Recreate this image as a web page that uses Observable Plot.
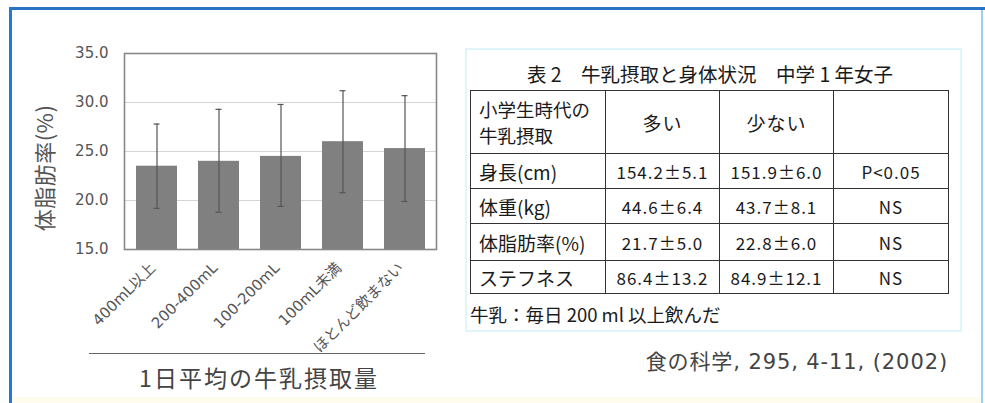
<!DOCTYPE html>
<html>
<head>
<meta charset="utf-8">
<script src="https://cdn.jsdelivr.net/npm/d3@7"></script>
<script src="https://cdn.jsdelivr.net/npm/@observablehq/plot@0.6"></script>
<style>
  html, body { margin: 0; padding: 0; background: #fff; }
  #page { position: relative; width: 985px; height: 403px; overflow: hidden; background: #fff;
          font-family: "Noto Sans CJK JP", "Noto Sans", sans-serif; }
  .abs { position: absolute; }
  #chart { position: absolute; left: 0; top: 0; }
  #ylabel { left: 43px; top: 168px; transform: translate(-50%, -50%) rotate(-90deg); font-size: 22px; color: #555; white-space: nowrap; letter-spacing: 0.5px; }
  #xline { left: 89px; top: 353px; width: 336px; height: 0; border-top: 1.5px solid #666; }
  #xtitle { left: 259px; top: 377px; transform: translate(-50%, -50%); font-size: 23px; color: #444; white-space: nowrap; letter-spacing: 2px; }
  #tblbox { left: 465px; top: 48px; width: 497px; height: 284px; border: 2px solid #e0f5f9; box-sizing: border-box; }
  #ttitle { left: 710px; top: 73px; transform: translate(-50%, -50%); font-size: 19.5px; color: #1a1a1a; white-space: pre; }
  #tbl { left: 470px; top: 90px; border-collapse: collapse; color: #1a1a1a; font-size: 17px; }
  #tbl td { border: 1.5px solid #333; padding: 0 6px; white-space: nowrap; box-sizing: border-box; }
  #tbl td.num { text-align: center; font-variant-numeric: tabular-nums; letter-spacing: 1px; }
  #tbl td.lab { text-align: left; padding-left: 8px; }
  .hl { display: block; line-height: 26px; }
  #tnote { left: 470px; top: 314px; transform: translate(0, -50%); font-size: 18.5px; color: #1a1a1a; white-space: nowrap; }
  #cite { left: 948px; top: 360px; transform: translate(-100%, -50%); font-size: 21px; color: #444; white-space: nowrap; letter-spacing: 0.9px;
          font-family: "DejaVu Sans", "Noto Sans CJK JP", sans-serif; }
  #ftop { left: 9px; top: 7px; width: 976px; height: 3px; background: #2a72c4; }
  #fleft { left: 9px; top: 7px; width: 3px; height: 396px; background: #1f7ad8; }
  #fright { left: 981px; top: 10px; width: 2px; height: 393px; background: #9ccff2; }
  #fbottom { left: 12px; top: 397px; width: 969px; height: 6px; background: #fffcee; }
</style>
</head>
<body>
<div id="page">
  <div id="fbottom" class="abs"></div>
  <div id="chart"></div>
  <div id="ylabel" class="abs"></div>
  <div id="xline" class="abs"></div>
  <div id="xtitle" class="abs"></div>
  <div id="tblbox" class="abs"></div>
  <div id="ttitle" class="abs"></div>
  <table id="tbl" class="abs"></table>
  <div id="tnote" class="abs"></div>
  <div id="cite" class="abs"></div>
  <div id="ftop" class="abs"></div>
  <div id="fleft" class="abs"></div>
  <div id="fright" class="abs"></div>
</div>
<script>
// ---- Chart data ----
const categories = ["400mL以上", "200-400mL", "100-200mL", "100mL未満", "ほとんど飲まない"];
const means = [23.5, 24.0, 24.5, 26.0, 25.3];
const lower = [19.2, 18.8, 19.4, 20.8, 19.9];
const upper = [27.8, 29.3, 29.8, 31.2, 30.7];
const yTicks = [15, 20, 25, 30, 35];
const gridTicks = [20, 25, 30];
const yLabel = "体脂肪率(%)";
const xTitle = "1日平均の牛乳摂取量";

// ---- Table data ----
const tableTitle = "表 2　牛乳摂取と身体状況　中学 1 年女子";
const headerLines = ["小学生時代の", "牛乳摂取"];
const colHeaders = ["多い", "少ない", ""];
const rowLabels = ["身長(cm)", "体重(kg)", "体脂肪率(%)", "ステフネス"];
const manyVals = ["154.2±5.1", "44.6±6.4", "21.7±5.0", "86.4±13.2"];
const fewVals = ["151.9±6.0", "43.7±8.1", "22.8±6.0", "84.9±12.1"];
const pVals = ["P<0.05", "NS", "NS", "NS"];
const tableNote = "牛乳：毎日 200 ml 以上飲んだ";
const citation = "食の科学, 295, 4-11, (2002)";

const data = categories.map((c, i) => ({cat: c, mean: means[i], lo: lower[i], hi: upper[i]}));
const axisFont = '"DejaVu Sans", "Noto Sans CJK JP", sans-serif';

const chart = Plot.plot({
  width: 450,
  height: 400,
  marginLeft: 124,
  marginRight: 14,
  marginTop: 53,
  marginBottom: 151,
  style: {fontFamily: axisFont, color: "#555", background: "transparent"},
  x: {domain: categories, paddingInner: 0.34, paddingOuter: 0.18},
  y: {domain: [15, 35]},
  marks: [
    Plot.gridY(gridTicks, {stroke: "#d4d4d4", strokeOpacity: 1, strokeWidth: 1}),
    Plot.barY(data, {x: "cat", y: "mean", fill: "#808080", clip: true}),
    Plot.ruleX(data, {x: "cat", y1: "lo", y2: "hi", stroke: "#555", strokeWidth: 1.2}),
    Plot.tickY(data, {x: "cat", y: "lo", stroke: "#555", strokeWidth: 1.2, insetLeft: 17.5, insetRight: 17.5}),
    Plot.tickY(data, {x: "cat", y: "hi", stroke: "#555", strokeWidth: 1.2, insetLeft: 17.5, insetRight: 17.5}),
    Plot.frame({stroke: "#888", strokeWidth: 1.6}),
    Plot.axisY({ticks: yTicks, tickFormat: d => d.toFixed(1), tickSize: 0, tickPadding: 16, label: null,
                fontSize: 15, fill: "#555"}),
    Plot.axisX({tickRotate: -45, tickSize: 0, tickPadding: 16, dx: -4, label: null, fontSize: 15, fill: "#555"})
  ]
});
document.getElementById("chart").appendChild(chart);
document.getElementById("ylabel").textContent = yLabel;
document.getElementById("xtitle").textContent = xTitle;

// ---- Table ----
document.getElementById("ttitle").textContent = tableTitle;
const colW = [135, 114, 114, 115];
const rowH = [63, 35, 35, 37, 33];
const tbl = document.getElementById("tbl");
let html = `<tr style="height:${rowH[0]}px"><td class="lab" style="width:${colW[0]}px;font-size:18.5px">` +
  headerLines.map(l => `<span class="hl">${l}</span>`).join("") + `</td>`;
colHeaders.forEach((h, j) => { html += `<td class="num" style="width:${colW[j+1]}px;font-size:19px">${h}</td>`; });
html += "</tr>";
rowLabels.forEach((r, i) => {
  html += `<tr style="height:${rowH[i+1]}px"><td class="lab" style="font-size:19px">${r}</td><td class="num">${manyVals[i]}</td><td class="num">${fewVals[i]}</td><td class="num">${pVals[i].replace("<", "&lt;")}</td></tr>`;
});
tbl.innerHTML = html;
document.getElementById("tnote").textContent = tableNote;
document.getElementById("cite").textContent = citation;
</script>
</body>
</html>
